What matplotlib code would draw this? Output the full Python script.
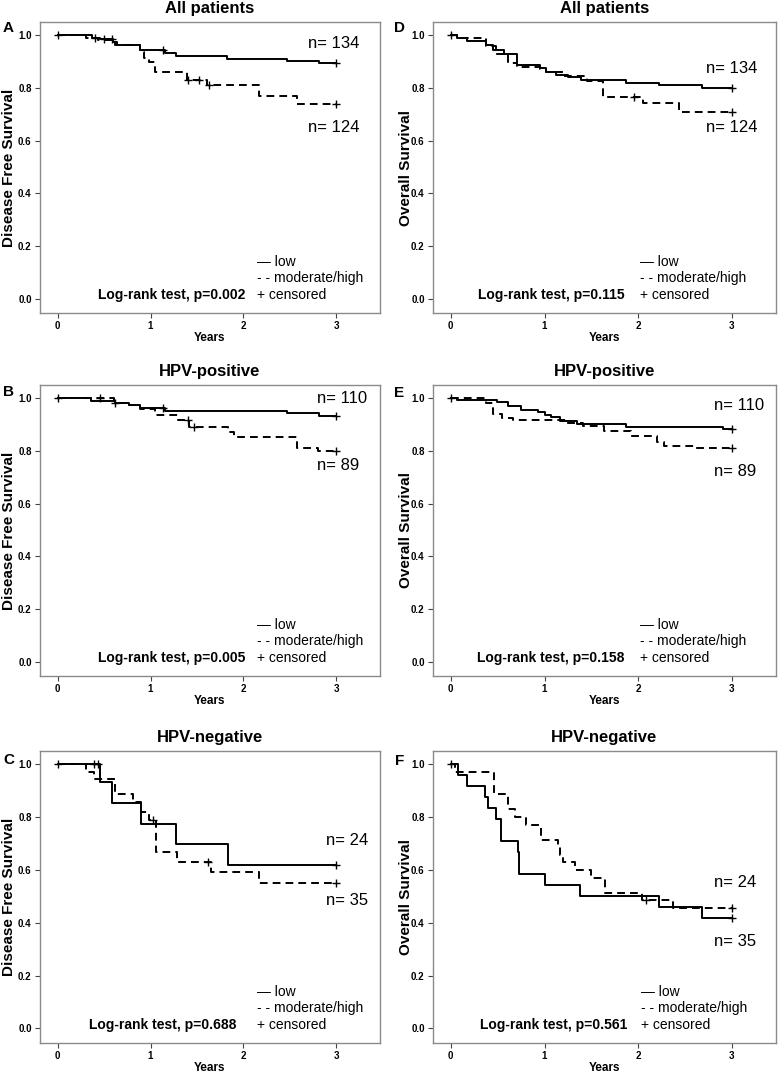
import numpy as np
import matplotlib
matplotlib.use("Agg")
import matplotlib.pyplot as plt

plt.rcParams['font.family'] = ['Liberation Sans', 'DejaVu Sans']

# ---------------- data ----------------
titles = ["All patients", "HPV-positive", "HPV-negative"]
letters = ["A", "B", "C", "D", "E", "F"]
ylabels = ["Disease Free Survival", "Overall Survival"]
pvalues = ["0.002", "0.005", "0.688", "0.115", "0.158", "0.561"]
n_low = ["134", "110", "24", "134", "110", "24"]
n_high = ["124", "89", "35", "124", "89", "35"]
xticks = [0, 1, 2, 3]
yticks = [0.0, 0.2, 0.4, 0.6, 0.8, 1.0]

# Panel A (DFS, all)
A_low_t = [0, 0.37, 0.46, 0.60, 0.64, 0.89, 1.16, 1.27, 1.82, 2.47, 2.81, 3.0]
A_low_s = [1.0, 0.99, 0.985, 0.973, 0.963, 0.945, 0.932, 0.92, 0.91, 0.903, 0.894, 0.894]
A_low_c = [0.0, 0.40, 0.50, 0.58, 1.13, 3.0]
A_high_t = [0, 0.30, 0.43, 0.62, 0.89, 0.93, 0.98, 1.05, 1.39, 1.61, 2.17, 2.58, 3.0]
A_high_s = [1.0, 0.99, 0.98, 0.963, 0.935, 0.915, 0.90, 0.862, 0.83, 0.81, 0.768, 0.737, 0.737]
A_high_c = [1.40, 1.52, 1.63, 3.0]

# Panel B (DFS, HPV+)
B_low_t = [0, 0.355, 0.62, 0.77, 0.89, 1.16, 2.47, 2.81, 3.0]
B_low_s = [1.0, 0.99, 0.98, 0.974, 0.962, 0.952, 0.942, 0.931, 0.931]
B_low_c = [0.0, 0.62, 1.13, 3.0]
B_high_t = [0, 0.61, 0.77, 0.89, 1.05, 1.30, 1.41, 1.83, 1.90, 2.58, 2.80, 3.0]
B_high_s = [1.0, 0.98, 0.974, 0.96, 0.935, 0.916, 0.892, 0.87, 0.854, 0.81, 0.80, 0.80]
B_high_c = [0.46, 1.40, 1.47, 3.0]

# Panel C (DFS, HPV-)
C_low_t = [0, 0.46, 0.59, 0.90, 1.27, 1.83, 3.0]
C_low_s = [1.0, 0.933, 0.853, 0.775, 0.697, 0.62, 0.62]
C_low_c = [0.0, 0.39, 0.43, 3.0]
C_high_t = [0, 0.30, 0.39, 0.62, 0.81, 0.90, 0.98, 1.06, 1.29, 1.65, 2.17, 3.0]
C_high_s = [1.0, 0.971, 0.943, 0.886, 0.857, 0.818, 0.788, 0.668, 0.63, 0.592, 0.549, 0.549]
C_high_c = [1.03, 1.62, 3.0]

# Panel D (OS, all)
D_low_t = [0, 0.07, 0.17, 0.38, 0.45, 0.57, 0.71, 0.95, 1.02, 1.12, 1.25, 1.39, 1.87, 2.22, 2.68, 3.0]
D_low_s = [1.0, 0.99, 0.977, 0.962, 0.945, 0.928, 0.887, 0.874, 0.862, 0.849, 0.84, 0.828, 0.82, 0.811, 0.80, 0.80]
D_low_c = [0.0, 3.0]
D_high_t = [0, 0.07, 0.38, 0.48, 0.61, 0.71, 0.95, 1.02, 1.20, 1.45, 1.62, 2.05, 2.44, 3.0]
D_high_s = [1.0, 0.99, 0.96, 0.93, 0.893, 0.88, 0.87, 0.86, 0.845, 0.825, 0.765, 0.742, 0.71, 0.71]
D_high_c = [1.95, 3.0]

# Panel E (OS, HPV+)
E_low_t = [0, 0.07, 0.49, 0.61, 0.75, 0.93, 1.00, 1.07, 1.16, 1.35, 1.87, 2.90, 3.0]
E_low_s = [1.0, 0.993, 0.984, 0.97, 0.956, 0.946, 0.937, 0.927, 0.915, 0.902, 0.892, 0.883, 0.883]
E_low_c = [0.0, 3.0]
E_high_t = [0, 0.38, 0.45, 0.55, 0.66, 1.23, 1.41, 1.63, 1.92, 2.20, 2.27, 2.59, 3.0]
E_high_s = [1.0, 0.98, 0.94, 0.925, 0.917, 0.905, 0.893, 0.874, 0.858, 0.833, 0.82, 0.81, 0.81]
E_high_c = [3.0]

# Panel F (OS, HPV-)
F_low_t = [0, 0.08, 0.17, 0.36, 0.40, 0.48, 0.54, 0.72, 0.73, 1.00, 1.38, 2.22, 2.68, 3.0]
F_low_s = [1.0, 0.958, 0.917, 0.875, 0.833, 0.792, 0.708, 0.667, 0.583, 0.542, 0.50, 0.458, 0.417, 0.417]
F_low_c = [0.0, 3.0]
F_high_t = [0, 0.04, 0.46, 0.61, 0.69, 0.80, 0.96, 1.14, 1.17, 1.20, 1.32, 1.50, 1.65, 2.04, 2.37, 3.0]
F_high_s = [1.0, 0.971, 0.886, 0.829, 0.80, 0.771, 0.714, 0.686, 0.657, 0.629, 0.60, 0.571, 0.514, 0.486, 0.457, 0.457]
F_high_c = [2.08, 3.0]

panels = [
    (A_low_t, A_low_s, A_low_c, A_high_t, A_high_s, A_high_c),
    (B_low_t, B_low_s, B_low_c, B_high_t, B_high_s, B_high_c),
    (C_low_t, C_low_s, C_low_c, C_high_t, C_high_s, C_high_c),
    (D_low_t, D_low_s, D_low_c, D_high_t, D_high_s, D_high_c),
    (E_low_t, E_low_s, E_low_c, E_high_t, E_high_s, E_high_c),
    (F_low_t, F_low_s, F_low_c, F_high_t, F_high_s, F_high_c),
]

# ---------------- layout (pixels) ----------------
W, H = 780, 1080
col_left = [40, 433]
col_width = [340, 343]
row_top = [22, 385, 751]
row_height = [291, 291, 292]
letter_xy = [(3, 28), (3, 392), (3, 760), (394, 28), (394, 393), (395, 761)]
nlabel_pos = [((2.70, 0.97), (2.70, 0.65)), ((2.79, 1.0), (2.79, 0.745)),
              ((2.885, 0.713), (2.885, 0.485)), ((2.72, 0.874), (2.72, 0.648)),
              ((2.81, 0.971), (2.81, 0.72)), ((2.81, 0.552), (2.81, 0.33))]
legend_x = [0.637, 0.637, 0.637, 0.603, 0.603, 0.606]
logrank_x = [0.603, 0.603, 0.579, 0.559, 0.559, 0.568]
ylabel_x = [-0.071, -0.058]

fig = plt.figure(figsize=(W / 100, H / 100), dpi=100)


def step_value(t, s, x):
    idx = np.searchsorted(np.asarray(t), x, side='right') - 1
    return np.asarray(s)[idx]


for i, (lt, ls, lc, ht, hs, hc) in enumerate(panels):
    col, row = divmod(i, 3)
    l = col_left[col] / W
    b = 1 - (row_top[row] + row_height[row]) / H
    ax = fig.add_axes([l, b, col_width[col] / W, row_height[row] / H])

    ax.step(ht, hs, where='post', color='black', lw=1.4, ls=(0, (4, 2.6)))
    ax.step(lt, ls, where='post', color='black', lw=1.4)
    ax.plot(hc, step_value(ht, hs, hc), ls='none', marker='+', ms=6, mew=1.0, color='black')
    ax.plot(lc, step_value(lt, ls, lc), ls='none', marker='+', ms=6, mew=1.0, color='black')

    ax.set_xlim(-0.19, 3.47)
    ax.set_ylim(-0.055, 1.05)
    ax.set_xticks(xticks)
    ax.set_yticks(yticks)
    ax.set_xticklabels([str(v) for v in xticks], fontsize=7, fontweight='bold')
    ax.set_yticklabels([f"{v:.1f}" for v in yticks], fontsize=7, fontweight='bold')
    ax.tick_params(axis='both', direction='out', length=3.5, width=0.8, color='#444444', pad=2.5)
    for sp in ax.spines.values():
        sp.set_color('#8a8a8a')
        sp.set_linewidth(1.0)

    ax.set_title(titles[row], fontsize=12, fontweight='bold', pad=6.5)
    ax.set_xlabel("Years", fontsize=8.5, fontweight='bold', labelpad=0.5)
    ax.set_ylabel(ylabels[col], fontsize=11, fontweight='bold')
    ax.yaxis.set_label_coords(ylabel_x[col], 0.5)

    (x1, y1), (x2, y2) = nlabel_pos[i]
    ax.text(x1, y1, "n= " + n_low[i], fontsize=12, ha='left', va='center')
    ax.text(x2, y2, "n= " + n_high[i], fontsize=12, ha='left', va='center')

    lx = legend_x[i]
    ax.text(lx, 0.176, "\u2014 low", transform=ax.transAxes, fontsize=10, ha='left', va='center')
    ax.text(lx, 0.119, "- - moderate/high", transform=ax.transAxes, fontsize=10, ha='left', va='center')
    ax.text(lx, 0.062, "+ censored", transform=ax.transAxes, fontsize=10, ha='left', va='center')
    ax.text(logrank_x[i], 0.062, "Log-rank test, p=" + pvalues[i], transform=ax.transAxes,
            fontsize=10, fontweight='bold', ha='right', va='center')

    px, py = letter_xy[i]
    fig.text(px / W, 1 - py / H, letters[i], fontsize=11, fontweight='bold', ha='left', va='center')

fig.savefig("out.png", dpi=100)
